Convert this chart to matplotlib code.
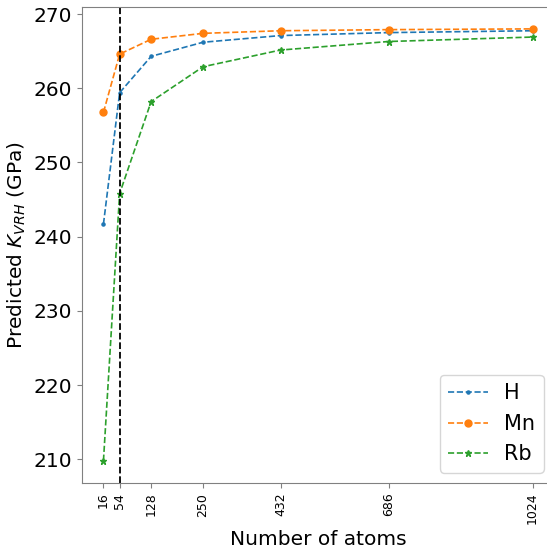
import matplotlib
matplotlib.use("Agg")
import matplotlib.pyplot as plt

# supercell sizes and predicted bulk moduli per dopant
n_atoms = [16, 54, 128, 250, 432, 686, 1024]
k_h = [241.7, 259.4, 264.3, 266.2, 267.1, 267.5, 267.75]
k_mn = [256.75, 264.6, 266.6, 267.4, 267.75, 267.9, 268.0]
k_rb = [209.8, 245.8, 258.2, 262.9, 265.15, 266.3, 266.9]
ref_size = 54


def main():
    fig = plt.figure(figsize=(5.47, 5.48), dpi=100)
    ax = fig.add_axes([82 / 547, 65 / 548, 472 / 547, 476 / 548])

    ax.plot(n_atoms, k_h, '--', marker='.', markersize=4.5, linewidth=1.2, label='H')
    ax.plot(n_atoms, k_mn, '--', marker='o', markersize=5, linewidth=1.2, label='Mn')
    ax.plot(n_atoms, k_rb, '--', marker='*', markersize=5, linewidth=1.2, label='Rb')
    ax.axvline(ref_size, color='black', linestyle='--', linewidth=1.3)

    ax.set_xticks(n_atoms)
    ax.set_xticklabels([str(n) for n in n_atoms], rotation=90, fontsize=9)
    ax.tick_params(axis='y', labelsize=14.5)
    ax.tick_params(colors='grey', labelcolor='black')
    for spine in ax.spines.values():
        spine.set_color('grey')

    ax.set_xlabel("Number of atoms", fontsize=14.5)
    ax.set_ylabel(r"Predicted $K_{VRH}$ (GPa)", fontsize=14.5)
    ax.set_ylim(206.8, 270.95)
    ax.legend(loc='lower right', fontsize=15, handlelength=1.9)

    fig.savefig("out.png", dpi=100)


if __name__ == '__main__':
    main()
